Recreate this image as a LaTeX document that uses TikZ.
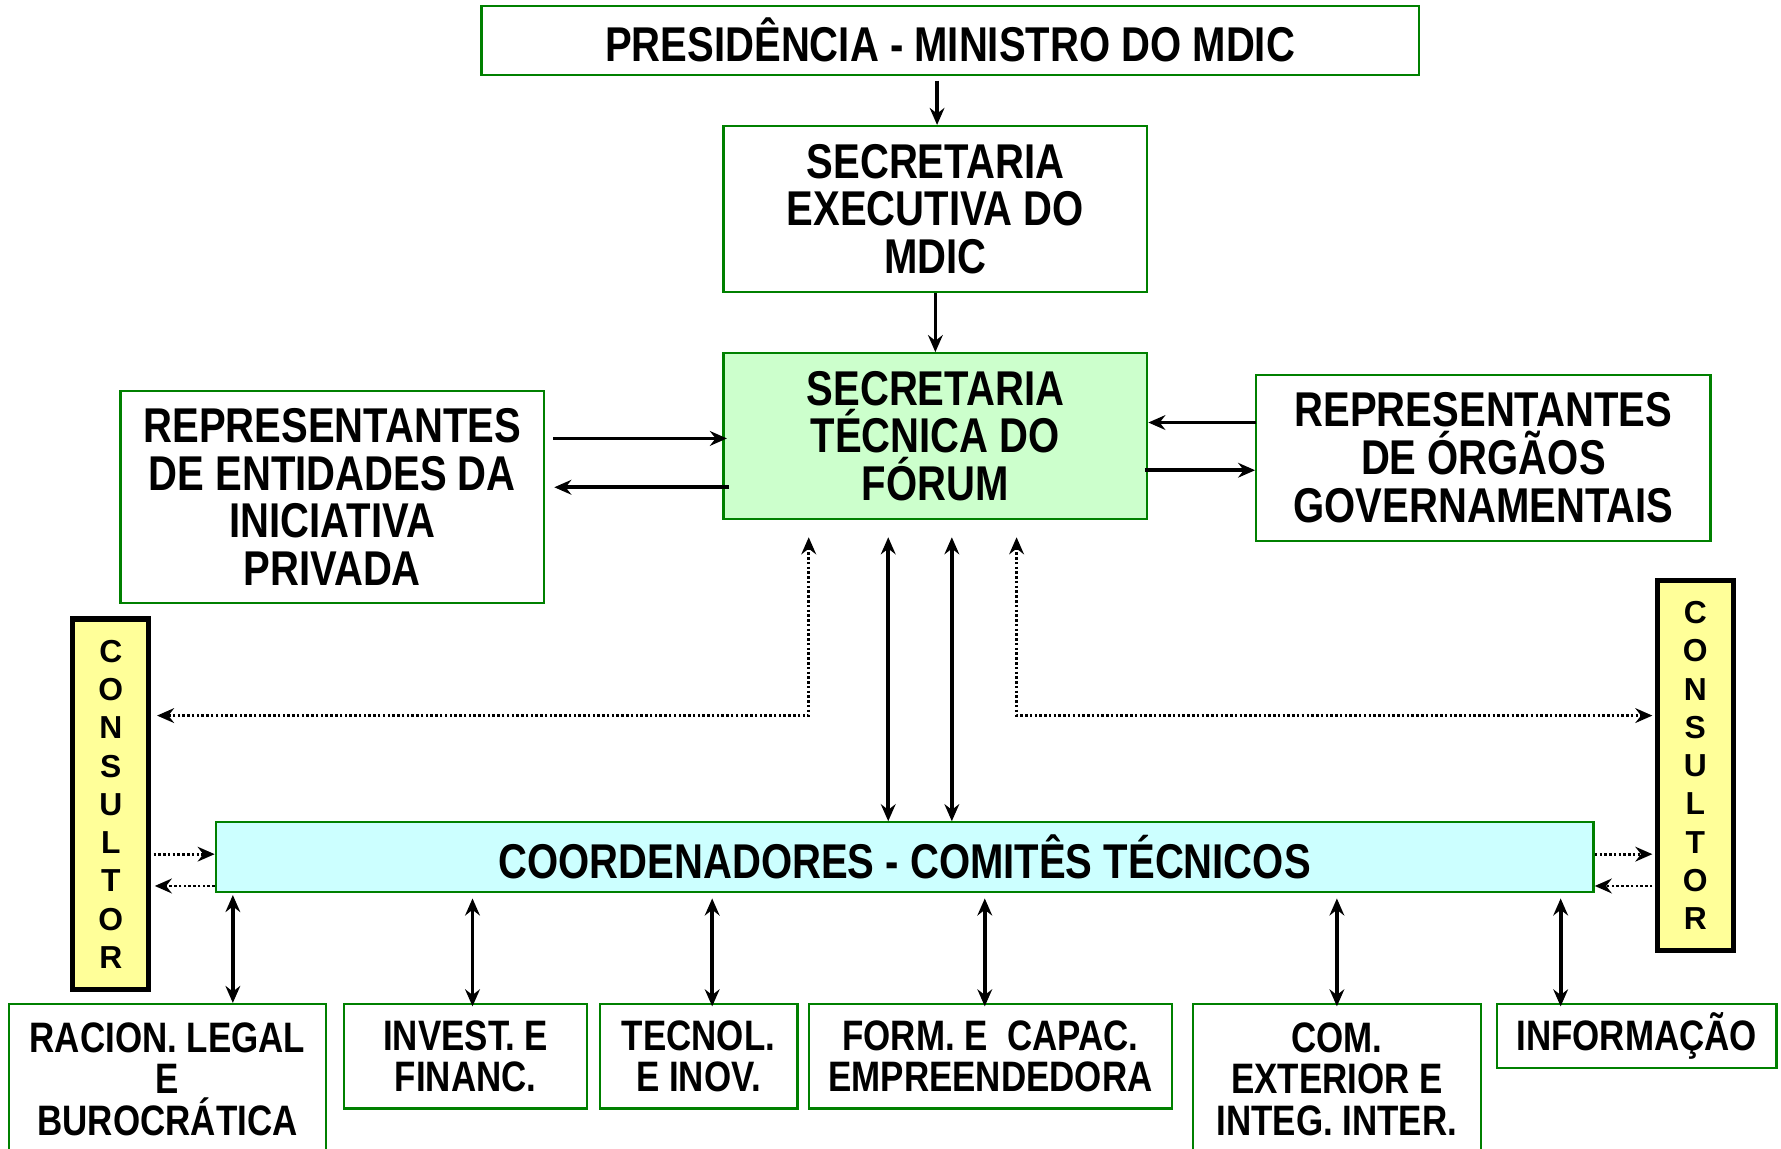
\documentclass[tikz,border=0pt]{standalone}
\usepackage{fontspec}
\newfontfamily\cf{Liberation Sans}[FakeStretch=0.82]
\newfontfamily\cfw{Liberation Sans}
\usetikzlibrary{arrows.meta,calc}
\definecolor{bgreen}{RGB}{0,128,0}
\definecolor{lgreen}{RGB}{204,255,204}
\definecolor{lcyan}{RGB}{204,255,255}
\definecolor{lyellow}{RGB}{255,255,153}
\begin{document}
\begin{tikzpicture}[x=1pt,y=-1pt,
 box/.style={draw=bgreen, line width=2pt, fill=white, inner sep=0pt, align=center,
   font=\cf\bfseries\fontsize{43}{42}\selectfont},
 sbox/.style={box, font=\cf\bfseries\fontsize{37.5}{36.5}\selectfont},
 cons/.style={draw=black, line width=4.5pt, fill=lyellow, inner sep=0pt, align=center,
   minimum width=67pt, minimum height=326pt, font=\cfw\bfseries\fontsize{28}{33.7}\selectfont},
 tip/.tip={Stealth[length=15pt,width=13pt,inset=5pt]},
 arr/.style={line width=3.3pt, -tip},
 darr/.style={line width=3.3pt, tip-tip},
 dotl/.style={line width=2.5pt, dash pattern=on 2.2pt off 2pt},
 darrd/.style={dotl, tip-tip},
 arrd/.style={dotl, -tip}
]
\clip (0,0) rectangle (1568,1011);
\fill[white] (0,0) rectangle (1568,1011);

% nodes
\node[box, minimum width=825pt, minimum height=61pt] (pres) at (836.5,35.5) {PRESIDÊNCIA - MINISTRO DO MDIC};
\node[box, minimum width=373pt, minimum height=146pt] (secexec) at (823.5,184) {SECRETARIA\\EXECUTIVA DO\\MDIC};
\node[box, fill=lgreen, minimum width=373pt, minimum height=146pt] (sectec) at (823.5,384) {SECRETARIA\\TÉCNICA DO\\FÓRUM};
\node[box, minimum width=373pt, minimum height=187pt] (repL) at (292.5,437.5) {REPRESENTANTES\\DE ENTIDADES DA\\INICIATIVA\\PRIVADA};
\node[box, minimum width=400pt, minimum height=146pt] (repR) at (1306,403) {REPRESENTANTES\\DE ÓRGÃOS\\GOVERNAMENTAIS};
\node[cons] (consL) at (97.5,708) {C\\O\\N\\S\\U\\L\\T\\O\\R};
\node[cons] (consR) at (1492.5,674) {C\\O\\N\\S\\U\\L\\T\\O\\R};
\node[box, fill=lcyan, minimum width=1213pt, minimum height=61pt] (coord) at (796.5,754.5) {COORDENADORES - COMITÊS TÉCNICOS};

\node[sbox, minimum width=279pt, minimum height=132pt] (b1) at (147.5,950) {RACION. LEGAL\\E\\BUROCRÁTICA};
\node[sbox, minimum width=214pt, minimum height=92pt] (b2) at (410,930) {INVEST. E\\FINANC.};
\node[sbox, minimum width=174pt, minimum height=92pt] (b3) at (615,930) {TECNOL.\\E INOV.};
\node[sbox, minimum width=320pt, minimum height=92pt] (b4) at (872,930) {FORM. E\ \ CAPAC.\\EMPREENDEDORA};
\node[sbox, minimum width=254pt, minimum height=132pt] (b5) at (1177,950) {COM.\\EXTERIOR E\\INTEG. INTER.};
\node[sbox, minimum width=246pt, minimum height=56pt] (b6) at (1441,912) {INFORMAÇÃO};

% top chain
\draw[arr] ($(secexec.north |- pres.south)+(1.5,4)$) -- ($(secexec.north)+(1.5,0)$);
\draw[arr] (secexec.south) -- (sectec.north);

% left representatives
\draw[arr] ($(repL.east |- 0,386)+(7,0)$) -- ($(sectec.west |- 0,386)+(4,0)$);
\draw[arr] ($(sectec.west |- 0,429)+(6,0)$) -- ($(repL.east |- 0,429)+(8,0)$);
% right representatives
\draw[arr] ($(repR.west |- 0,372)+(1,0)$) -- (sectec.east |- 0,372);
\draw[arr] ($(sectec.east |- 0,414)+(-3,0)$) -- (repR.west |- 0,414);

% dotted links to consultors
\draw[darrd] ($(sectec.south -| 712,0)+(0,15)$) -- (712,630) -- ($(consL.east |- 0,630)+(5,0)$);
\draw[darrd] ($(sectec.south -| 895,0)+(0,15)$) -- (895,630) -- ($(consR.west |- 0,630)+(-2,0)$);

% secretaria <-> coordenadores
\draw[darr] ($(sectec.south -| 782,0)+(0,15)$) -- (coord.north -| 782,0);
\draw[darr] ($(sectec.south -| 838,0)+(0,15)$) -- (coord.north -| 838,0);

% consultors <-> coordenadores
\draw[arrd] ($(consL.east |- 0,752)+(2,0)$) -- (coord.west |- 0,752);
\draw[arrd] (coord.west |- 0,780) -- ($(consL.east |- 0,780)+(3,0)$);
\draw[arrd] (coord.east |- 0,752) -- ($(consR.west |- 0,752)+(-2,0)$);
\draw[arrd] ($(consR.west |- 0,780)+(-2,0)$) -- (coord.east |- 0,780);

% coordenadores <-> comites
\draw[darr] ($(coord.south -| 205,0)+(0,2)$) -- (b1.north -| 205,0);
\draw[darr] ($(coord.south -| 416,0)+(0,5)$) -- ($(b2.north -| 416,0)+(0,3)$);
\draw[darr] ($(coord.south -| 627,0)+(0,5)$) -- ($(b3.north -| 627,0)+(0,3)$);
\draw[darr] ($(coord.south -| 867,0)+(0,5)$) -- ($(b4.north -| 867,0)+(0,3)$);
\draw[darr] ($(coord.south -| 1177,0)+(0,5)$) -- ($(b5.north -| 1177,0)+(0,3)$);
\draw[darr] ($(coord.south -| 1374,0)+(0,5)$) -- ($(b6.north -| 1374,0)+(0,3)$);
\end{tikzpicture}
\end{document}
